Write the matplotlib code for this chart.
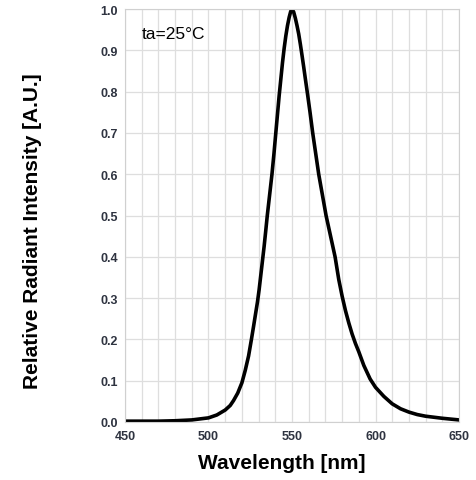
import matplotlib
matplotlib.use("Agg")
import matplotlib.pyplot as plt
from matplotlib.ticker import MultipleLocator

# 상대 방사 강도 스펙트럼 (ta=25°C)
wavelength = [450, 460, 470, 480, 490, 500, 505, 510, 513, 515, 517.5, 520,
              522, 524, 525.7, 527, 528.3, 529.3, 530.3, 531.3, 532.3, 533.3,
              534.2, 535.2, 536.6, 538, 539.2, 540.3, 541.3, 542.3, 543.3,
              544.3, 545.3, 546.3, 547.3, 548.3, 549.2, 550, 551, 552, 553,
              554, 555, 556, 557, 558, 559.2, 560.8, 562.4, 564.2, 566, 568.2,
              570.4, 573.1, 575.8, 578, 580, 582, 584, 586, 588, 590, 593,
              596.8, 600, 605, 610, 615, 620, 625, 630, 640, 650]
intensity = [0.002, 0.002, 0.002, 0.003, 0.005, 0.010, 0.017, 0.029, 0.040,
             0.052, 0.070, 0.095, 0.125, 0.16, 0.20, 0.232, 0.265, 0.29, 0.32,
             0.355, 0.39, 0.425, 0.46, 0.50, 0.55, 0.60, 0.65, 0.70, 0.745,
             0.79, 0.83, 0.87, 0.905, 0.935, 0.96, 0.98, 0.994, 1.0, 0.993,
             0.978, 0.96, 0.94, 0.915, 0.888, 0.86, 0.831, 0.797, 0.75, 0.70,
             0.65, 0.60, 0.55, 0.50, 0.45, 0.40, 0.345, 0.305, 0.27, 0.24,
             0.213, 0.19, 0.17, 0.137, 0.104, 0.084, 0.062, 0.044, 0.032,
             0.024, 0.018, 0.014, 0.009, 0.005]

x_ticks = [450, 500, 550, 600, 650]
y_ticks = [0.0, 0.1, 0.2, 0.3, 0.4, 0.5, 0.6, 0.7, 0.8, 0.9, 1.0]

plt.rcParams['font.family'] = ['Liberation Sans', 'DejaVu Sans']

fig = plt.figure(figsize=(4.76, 4.81), dpi=100)
ax = fig.add_axes([0.2626, 0.1206, 0.7017, 0.8584])

ax.plot(wavelength, intensity, color='black', linewidth=2.6,
        solid_joinstyle='round', solid_capstyle='round')

ax.set_xlim(450, 650)
ax.set_ylim(0, 1.0)
ax.set_xticks(x_ticks)
ax.set_yticks(y_ticks)
ax.set_yticklabels(['%.1f' % v for v in y_ticks])
ax.xaxis.set_minor_locator(MultipleLocator(10))
ax.grid(True, which='both', color='#dedede', linewidth=0.9)
ax.set_axisbelow(True)
ax.tick_params(which='both', length=0, labelsize=9, labelcolor='#2e3340')
ax.tick_params(axis='x', pad=6)
ax.tick_params(axis='y', pad=5)
for lbl in ax.get_xticklabels() + ax.get_yticklabels():
    lbl.set_fontweight('bold')
for s in ax.spines.values():
    s.set_color('#d0d0d0')

ax.set_xlabel('Wavelength [nm]', fontsize=15, fontweight='bold', labelpad=8)
ax.set_ylabel('Relative Radiant Intensity [A.U.]', fontsize=15, fontweight='bold', labelpad=42)
ax.xaxis.label.set_x(0.47)
ax.yaxis.label.set_y(0.465)

ax.text(460, 0.94, 'ta=25°C', fontsize=12.5, color='black', va='center')

fig.savefig('out.png', dpi=100)
